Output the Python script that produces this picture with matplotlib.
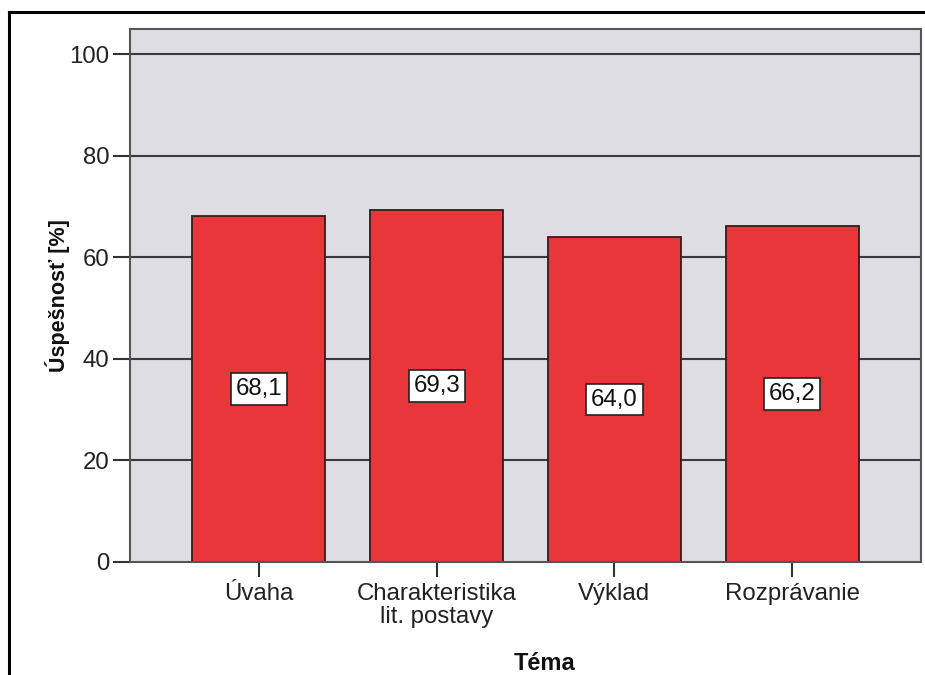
import matplotlib.pyplot as plt
from matplotlib.lines import Line2D

# Data
categories = ['Úvaha', 'Charakteristika\nlit. postavy', 'Výklad', 'Rozprávanie']
values = [68.1, 69.3, 64.0, 66.2]
value_labels = ['68,1', '69,3', '64,0', '66,2']
yticks = [0, 20, 40, 60, 80, 100]

plt.rcParams['font.family'] = ['Liberation Sans', 'DejaVu Sans']

fig = plt.figure(figsize=(9.25, 6.75), dpi=100)
ax = fig.add_axes([130 / 925, 1 - 562 / 675, 791 / 925, 533 / 675])
ax.set_facecolor('#dedde3')

# Grid lines behind the bars
for y in yticks[1:]:
    ax.axhline(y, color='#3a3a3a', linewidth=1.5, zorder=1)

x = range(len(categories))
ax.bar(x, values, width=0.747, color='#e8363a', edgecolor='#3a1a1a', linewidth=1.3, zorder=2)

# Value labels in white boxes at half bar height
for i, (v, lab) in enumerate(zip(values, value_labels)):
    ax.text(i, v / 2, lab, ha='center', va='center', fontsize=17.3, color='#111111', zorder=3,
            bbox=dict(boxstyle='square,pad=0.2', facecolor='white', edgecolor='#222222', linewidth=1.2))

ax.set_xlim(-0.725, 3.725)
ax.set_ylim(0, 105)
ax.set_yticks(yticks)
ax.set_xticks(list(x))
ax.set_xticklabels(categories, fontsize=17.3, color='#222222', linespacing=1.05)
ax.tick_params(axis='y', labelsize=17.3, labelcolor='#222222', length=12, width=1.5, color='#333333', pad=3)
ax.tick_params(axis='x', length=11, width=1.5, color='#333333', pad=4)

for s in ax.spines.values():
    s.set_color('#555555')
    s.set_linewidth(1.5)

fig.text(57 / 925, 1 - 296 / 675, 'Úspešnosť [%]', rotation=90, ha='center', va='center',
         fontsize=15.5, fontweight='bold', color='#111111')
fig.text(545 / 925, 1 - 663 / 675, 'Téma', ha='center', va='center',
         fontsize=17, fontweight='bold', color='#111111')

# Outer frame (only left and top visible in the crop)
fig.add_artist(Line2D([9 / 925, 9 / 925], [0, 1 - 12 / 675], color='black', linewidth=2.2, transform=fig.transFigure))
fig.add_artist(Line2D([9 / 925, 1], [1 - 12 / 675, 1 - 12 / 675], color='black', linewidth=2.2, transform=fig.transFigure))

fig.savefig('out.png', dpi=100)
